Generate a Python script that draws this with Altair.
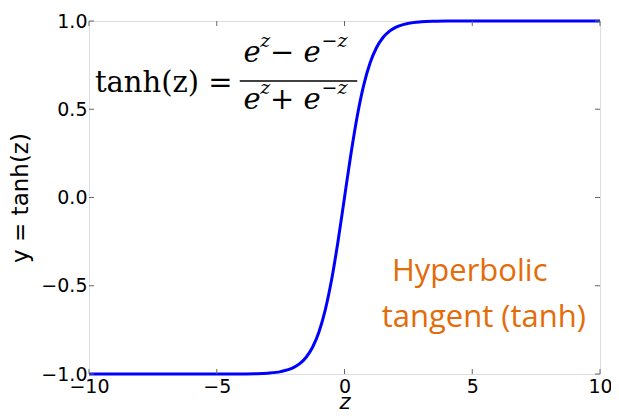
import altair as alt
import pandas as pd

# curve values
z_vals = [-10, -6, -5, -4, -3.5, -3, -2.5, -2, -1.75, -1.5, -1.25, -1, -0.75, -0.5, -0.25,
          0, 0.25, 0.5, 0.75, 1, 1.25, 1.5, 1.75, 2, 2.5, 3, 3.5, 4, 5, 6, 10]
y_vals = [-1.0, -1.0, -0.9999, -0.9993, -0.9982, -0.9951, -0.9866, -0.964, -0.9413, -0.9051,
          -0.8483, -0.7616, -0.6351, -0.4621, -0.2449,
          0.0, 0.2449, 0.4621, 0.6351, 0.7616, 0.8483, 0.9051, 0.9413, 0.964, 0.9866, 0.9951,
          0.9982, 0.9993, 0.9999, 1.0, 1.0]

x_ticks = [-10, -5, 0, 5, 10]
y_ticks = [-1.0, -0.5, 0.0, 0.5, 1.0]

W, H = 511, 353

curve = pd.DataFrame({"z": z_vals, "y": y_vals})

xs = alt.Scale(domain=[-10, 10], nice=False, zero=False)
ys = alt.Scale(domain=[-1, 1], nice=False, zero=False)

x_axis = alt.Axis(values=x_ticks, title="z", titleFontStyle="italic", titleFont="DejaVu Sans",
                  titleFontSize=21, titleFontWeight="normal", titlePadding=-5,
                  labelFont="DejaVu Sans", labelFontSize=19, labelColor="black",
                  labelPadding=3, tickSize=0, domain=False, grid=False, labelFlush=False,
                  labelExpr="replace(format(datum.value, 'd'), '-', '\u2212')")
y_axis = alt.Axis(values=y_ticks, title="y = tanh(z)", titleFont="DejaVu Sans",
                  titleFontSize=23, titleFontWeight="normal", titlePadding=8,
                  labelFont="DejaVu Sans", labelFontSize=19, labelColor="black",
                  labelPadding=2, tickSize=0, domain=False, grid=False, labelFlush=False,
                  labelExpr="replace(format(datum.value, '.1f'), '-', '\u2212')")

line = alt.Chart(curve).mark_line(color="#0000FF", strokeWidth=3, interpolate="monotone").encode(
    x=alt.X("z:Q", scale=xs, axis=x_axis),
    y=alt.Y("y:Q", scale=ys, axis=y_axis),
)

# inward tick marks on all four sides
xt = pd.DataFrame({"t": x_ticks})
yt = pd.DataFrame({"t": y_ticks})
tick_style = dict(color="#666666", strokeWidth=1)
xb = alt.Chart(xt).mark_rule(**tick_style).encode(
    x=alt.X("t:Q", scale=xs), y=alt.value(H), y2=alt.value(H - 5))
xtop = alt.Chart(xt).mark_rule(**tick_style).encode(
    x=alt.X("t:Q", scale=xs), y=alt.value(0), y2=alt.value(5))
yl = alt.Chart(yt).mark_rule(**tick_style).encode(
    y=alt.Y("t:Q", scale=ys), x=alt.value(0), x2=alt.value(5))
yr = alt.Chart(yt).mark_rule(**tick_style).encode(
    y=alt.Y("t:Q", scale=ys), x=alt.value(W), x2=alt.value(W - 5))

# formula annotation
serif = "DejaVu Serif"
lhs = alt.Chart(pd.DataFrame({"x": [-9.77], "y": [0.6], "t": ["tanh(z) ="]})).mark_text(
    font=serif, fontSize=29, align="left", baseline="alphabetic", color="black").encode(
    x=alt.X("x:Q", scale=xs), y=alt.Y("y:Q", scale=ys), text="t:N")

num_main = pd.DataFrame({"x": [-3.95], "y": [0.77], "t": ["e    \u2212  e"]})
den_main = pd.DataFrame({"x": [-3.95], "y": [0.50], "t": ["e    +  e"]})
frac_txt = alt.Chart(pd.concat([num_main, den_main])).mark_text(
    font=serif, fontSize=29, fontStyle="italic", align="left", baseline="alphabetic",
    color="black").encode(x=alt.X("x:Q", scale=xs), y=alt.Y("y:Q", scale=ys), text="t:N")

sup = pd.DataFrame({"x": [-3.3, -0.9, -3.3, -0.9], "y": [0.855, 0.855, 0.585, 0.585],
                    "t": ["z", "\u2212z", "z", "\u2212z"]})
sup_txt = alt.Chart(sup).mark_text(
    font=serif, fontSize=19, fontStyle="italic", align="left", baseline="alphabetic",
    color="black").encode(x=alt.X("x:Q", scale=xs), y=alt.Y("y:Q", scale=ys), text="t:N")

bar = alt.Chart(pd.DataFrame({"x": [-4.1], "x2": [0.5], "y": [0.66]})).mark_rule(
    color="black", strokeWidth=1.5).encode(
    x=alt.X("x:Q", scale=xs), x2="x2:Q", y=alt.Y("y:Q", scale=ys))

# orange label
lbl = pd.DataFrame({"x": [4.9, 5.45], "y": [-0.42, -0.685], "t": ["Hyperbolic", "tangent (tanh)"]})
orange = alt.Chart(lbl).mark_text(
    font="Open Sans", fontSize=31, align="center", baseline="middle", color="#E36C09").encode(
    x=alt.X("x:Q", scale=xs), y=alt.Y("y:Q", scale=ys), text="t:N")

chart = alt.layer(line, xb, xtop, yl, yr, bar, lhs, frac_txt, sup_txt, orange).properties(
    width=W, height=H,
    autosize=alt.AutoSizeParams(type="none"),
    padding={"left": 81, "top": 13, "right": 11, "bottom": 36},
).configure_view(stroke="#666666", strokeWidth=1).configure(background="white")

chart.save("out.html", embed_options={"renderer": "svg", "actions": False})
